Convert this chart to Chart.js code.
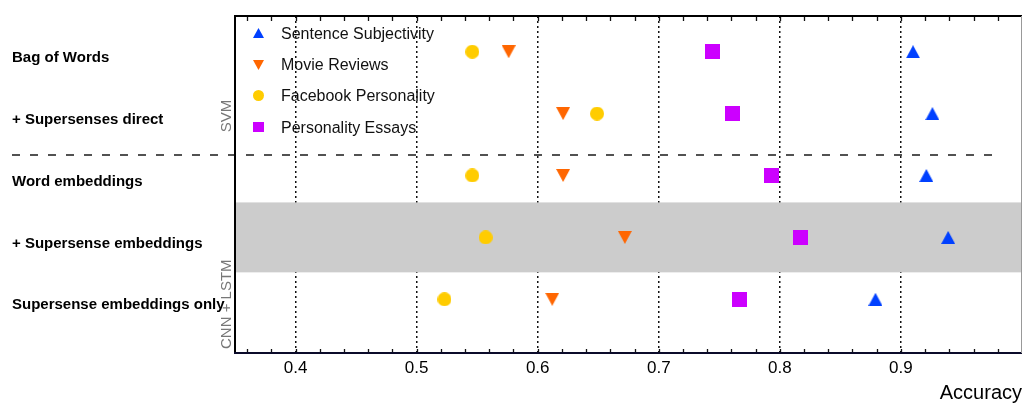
<!DOCTYPE html>
<html><head><meta charset="utf-8">
<script src="https://cdn.jsdelivr.net/npm/chart.js@4"></script>
<style>html,body{margin:0;padding:0;background:#fff}#wrap{width:1023px;height:403px;position:relative}</style>
</head><body><div id="wrap"><canvas id="c"></canvas></div>
<script>
const categories = ['Bag of Words', '+ Supersenses direct', 'Word embeddings', '+ Supersense embeddings', 'Supersense embeddings only'];
const seriesNames = ['Sentence Subjectivity', 'Movie Reviews', 'Facebook Personality', 'Personality Essays'];
const sentenceSubjectivity = [0.910, 0.926, 0.921, 0.939, 0.879];
const movieReviews = [0.576, 0.621, 0.621, 0.672, 0.612];
const facebookPersonality = [0.546, 0.649, 0.546, 0.557, 0.523];
const personalityEssays = [0.744, 0.761, 0.793, 0.817, 0.767];
const xTickValues = [0.4, 0.5, 0.6, 0.7, 0.8, 0.9];
const xTickLabels = ['0.4', '0.5', '0.6', '0.7', '0.8', '0.9'];
const groupNames = ['SVM', 'CNN + LSTM'];
const highlightedRow = 3;

const FONT = "'Liberation Sans', Arial, Helvetica, sans-serif";

function makeMarker(shape, color, w, h) {
  const c = document.createElement('canvas');
  c.width = w; c.height = h;
  const g = c.getContext('2d');
  g.fillStyle = color;
  g.beginPath();
  if (shape === 'up') { g.moveTo(w / 2, 0); g.lineTo(w, h); g.lineTo(0, h); g.closePath(); }
  else if (shape === 'down') { g.moveTo(0, 0); g.lineTo(w, 0); g.lineTo(w / 2, h); g.closePath(); }
  else if (shape === 'circle') { g.ellipse(w / 2, h / 2, w / 2, h / 2, 0, 0, Math.PI * 2); }
  else { g.rect(0, 0, w, h); }
  g.fill();
  return c;
}

const seriesStyle = [
  { shape: 'up', color: '#0040ff', w: 14, h: 13, lw: 11, lh: 10 },
  { shape: 'down', color: '#ff6600', w: 14, h: 13, lw: 11, lh: 10 },
  { shape: 'circle', color: '#ffcc00', w: 14, h: 14, lw: 11, lh: 11 },
  { shape: 'square', color: '#cc00ff', w: 15, h: 15, lw: 11, lh: 10 }
];
const seriesValues = [sentenceSubjectivity, movieReviews, facebookPersonality, personalityEssays];

const datasets = seriesNames.map((name, s) => {
  const st = seriesStyle[s];
  return {
    label: name,
    data: seriesValues[s].map((v, i) => ({ x: v, y: i })),
    pointStyle: makeMarker(st.shape, st.color, st.w, st.h),
    legendMarker: makeMarker(st.shape, st.color, st.lw, st.lh),
    backgroundColor: st.color,
    borderColor: st.color,
    pointRadius: 7,
    pointHoverRadius: 7,
    showLine: false
  };
});

const decor = {
  id: 'decor',
  beforeDatasetsDraw(chart) {
    const { ctx, chartArea: a, scales: { x, y } } = chart;
    ctx.save();
    const y1 = y.getPixelForValue(highlightedRow - 0.565);
    const y2 = y.getPixelForValue(highlightedRow + 0.565);
    ctx.fillStyle = '#cccccc';
    ctx.fillRect(a.left, Math.min(y1, y2), a.right - a.left, Math.abs(y2 - y1));
    const yd = Math.round(y.getPixelForValue(1.67));
    ctx.strokeStyle = '#1a1a1a';
    ctx.lineWidth = 1.5;
    ctx.setLineDash([8, 10]);
    ctx.beginPath();
    ctx.moveTo(12, yd);
    ctx.lineTo(x.getPixelForValue(0.981), yd);
    ctx.stroke();
    ctx.restore();
  },
  afterDatasetsDraw(chart) {
    const { ctx, chartArea: a, scales: { x, y } } = chart;
    ctx.save();
    ctx.setLineDash([]);
    ctx.strokeStyle = '#111';
    ctx.lineWidth = 1.3;
    ctx.beginPath();
    for (let k = 0; k < 32; k++) {
      const v = 0.36 + k * 0.02;
      const px = Math.round(x.getPixelForValue(v)) + 0.5;
      ctx.moveTo(px, a.top); ctx.lineTo(px, a.top + 5);
      ctx.moveTo(px, a.bottom); ctx.lineTo(px, a.bottom - 4);
    }
    ctx.stroke();
    ctx.fillStyle = '#000';
    ctx.fillRect(a.left - 1, a.top - 1, a.right - a.left + 1, 2);
    ctx.fillRect(a.left - 1, a.top - 1, 2, a.bottom - a.top + 2);
    ctx.fillStyle = '#0b0b2a';
    ctx.fillRect(a.left - 1, a.bottom - 1, a.right - a.left + 1, 2);
    ctx.fillStyle = '#999';
    ctx.fillRect(a.right - 1, a.top, 1, a.bottom - a.top);
    ctx.fillStyle = '#777';
    ctx.font = '15px ' + FONT;
    ctx.textAlign = 'center';
    ctx.textBaseline = 'middle';
    const groupRows = [1.04, 4.08];
    groupNames.forEach((g, i) => {
      ctx.save();
      ctx.translate(226.5, y.getPixelForValue(groupRows[i]));
      ctx.rotate(-Math.PI / 2);
      ctx.fillText(g, 0, 0);
      ctx.restore();
    });
    ctx.font = '16px ' + FONT;
    ctx.textAlign = 'left';
    ctx.fillStyle = '#111';
    chart.data.datasets.forEach((ds, i) => {
      const cy = a.top + 17.3 + i * 31.3;
      const m = ds.legendMarker;
      ctx.drawImage(m, Math.round(a.left + 23 - m.width / 2), Math.round(cy - m.height / 2));
      ctx.fillText(ds.label, a.left + 46, cy + 1);
    });
    ctx.restore();
  }
};

new Chart(document.getElementById('c'), {
  type: 'scatter',
  data: { datasets },
  options: {
    responsive: true,
    maintainAspectRatio: false,
    animation: false,
    events: [],
    layout: { autoPadding: false, padding: { left: 12, top: 16, right: 1, bottom: 0 } },
    plugins: { legend: { display: false }, tooltip: { enabled: false } },
    scales: {
      x: {
        type: 'linear', min: 0.35, max: 1.0,
        afterBuildTicks: s => { s.ticks = xTickValues.map(v => ({ value: v })); },
        afterFit: s => { s.height = 50; s.paddingLeft = 0; s.paddingRight = 0; },
        grid: { color: '#111', lineWidth: 1.5, drawTicks: false },
        border: { display: false, dash: [2, 3] },
        ticks: {
          callback: (v, i) => xTickLabels[i],
          padding: 5, autoSkip: false, maxRotation: 0,
          color: '#000', font: { family: FONT, size: 17 }
        },
        title: {
          display: true, text: 'Accuracy', align: 'end', padding: 0,
          color: '#000', font: { family: FONT, size: 20, lineHeight: 1 }
        }
      },
      y: {
        type: 'linear', reverse: true, min: -0.577, max: 4.868,
        afterBuildTicks: s => { s.ticks = categories.map((c, i) => ({ value: i })); },
        afterFit: s => { s.width = 223; s.paddingTop = 0; s.paddingBottom = 0; },
        grid: { display: false },
        border: { display: false },
        ticks: {
          callback: v => categories[v],
          crossAlign: 'far', labelOffset: 6, padding: 0, autoSkip: false,
          color: '#000', font: { family: FONT, size: 15, weight: 'bold' }
        }
      }
    }
  },
  plugins: [decor]
});
</script>
</body></html>
